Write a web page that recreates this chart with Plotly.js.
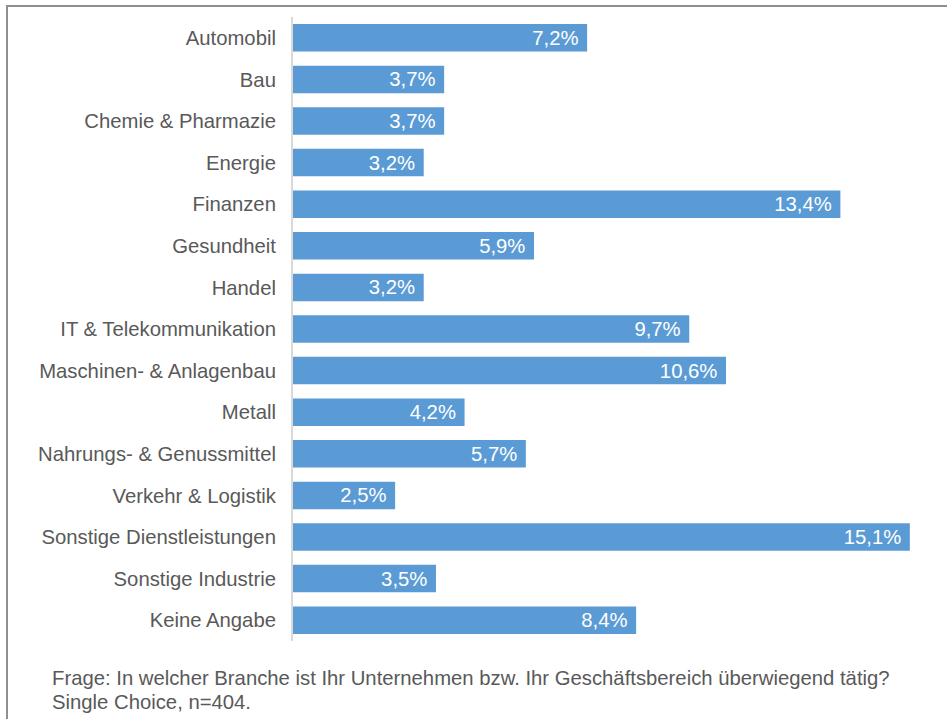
<!DOCTYPE html>
<html>
<head>
<meta charset="utf-8">
<script src="https://cdn.plot.ly/plotly-3.0.1.min.js"></script>
<style>
html,body{margin:0;padding:0;background:#fff;}
#wrap{position:relative;width:947px;height:719px;overflow:hidden;}
#chart{position:absolute;left:0;top:0;width:947px;height:719px;}
#frame{position:absolute;left:6px;top:5px;width:960px;height:760px;border-top:2px solid #8f8f8f;border-left:2px solid #8f8f8f;pointer-events:none;}
</style>
</head>
<body>
<div id="wrap"><div id="chart"></div><div id="frame"></div></div>
<script>
const categories = [
  "Automobil","Bau","Chemie & Pharmazie","Energie","Finanzen","Gesundheit","Handel",
  "IT & Telekommunikation","Maschinen- & Anlagenbau","Metall","Nahrungs- & Genussmittel",
  "Verkehr & Logistik","Sonstige Dienstleistungen","Sonstige Industrie","Keine Angabe"
];
const values = [7.2,3.7,3.7,3.2,13.4,5.9,3.2,9.7,10.6,4.2,5.7,2.5,15.1,3.5,8.4];
const footnoteLines = [
  "Frage: In welcher Branche ist Ihr Unternehmen bzw. Ihr Geschäftsbereich überwiegend tätig?",
  "Single Choice, n=404."
];

const W = 947, H = 719;
const M = {l:293, r:20, t:17, b:78};
const pw = W - M.l - M.r, ph = H - M.t - M.b;
const FONT = "Liberation Sans, Arial, sans-serif";
const FS = 20.3;

const trace = {
  type: "bar",
  orientation: "h",
  y: categories,
  x: values,
  marker: {color: "#5B9BD5"},
  texttemplate: "%{x:.1f}%\u00a0",
  textposition: "inside",
  insidetextanchor: "end",
  constraintext: "none",
  textfont: {family: FONT, size: FS, color: "#ffffff"},
  hoverinfo: "none",
  cliponaxis: false
};

const annotations = footnoteLines.map((t, i) => ({
  text: t,
  xref: "paper", yref: "paper",
  x: (50 - M.l) / pw,
  y: (M.t + ph - (678 + i * 24)) / ph,
  xanchor: "left", yanchor: "middle",
  showarrow: false,
  font: {family: FONT, size: FS, color: "#595959"}
}));

const layout = {
  width: W, height: H,
  margin: M,
  paper_bgcolor: "rgba(0,0,0,0)",
  plot_bgcolor: "rgba(0,0,0,0)",
  separators: ",.",
  showlegend: false,
  bargap: 0.34,
  xaxis: {
    range: [0, pw / 40.85],
    showgrid: false, zeroline: false, showline: false,
    showticklabels: false, ticks: ""
  },
  yaxis: {
    type: "category",
    autorange: "reversed",
    showgrid: false, zeroline: false,
    showline: true, linecolor: "#d9d9d9", linewidth: 2,
    ticks: "outside", ticklen: 11, tickcolor: "rgba(0,0,0,0)",
    tickfont: {family: FONT, size: FS, color: "#595959"}
  },
  annotations: annotations
};

Plotly.newPlot("chart", [trace], layout, {staticPlot: true, displayModeBar: false});
</script>
</body>
</html>
